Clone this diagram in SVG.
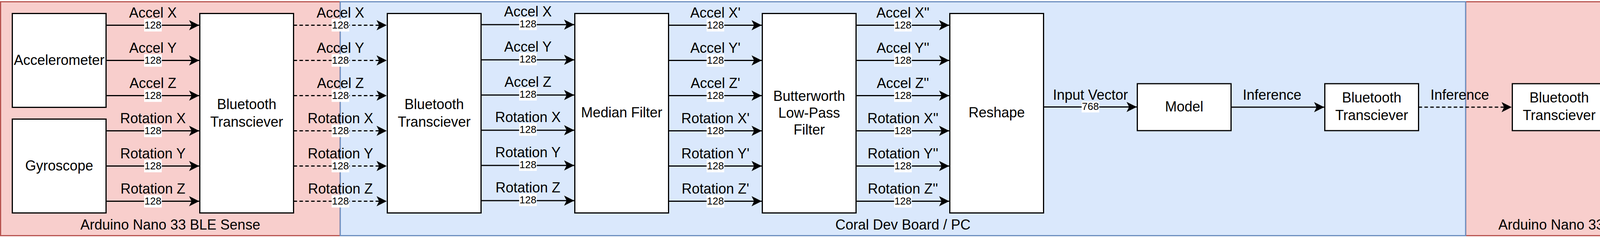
<svg xmlns="http://www.w3.org/2000/svg" width="4383" height="606" viewBox="0 0 4383 606">
<style>
text{font-family:"Liberation Sans",Arial,Helvetica,sans-serif;fill:#000}
.t{font-size:36px;text-anchor:middle}
.n{font-size:26px;text-anchor:middle}
.node{fill:#fff;stroke:#000;stroke-width:3}
.e{stroke:#000;stroke-width:3;fill:none;marker-end:url(#arr)}
.d{stroke-dasharray:9 6}
.lb{fill:#fff}
.red{fill:#f8cecc;stroke:#b85450;stroke-width:3}
.blue{fill:#dae8fc;stroke:#6c8ebf;stroke-width:3}
</style>
<defs>
<marker id="arr" markerUnits="userSpaceOnUse" viewBox="-27 -14 28 28" markerWidth="28" markerHeight="28" refX="0" refY="0" orient="auto"><path d="M0,0 L-26,-13 L-19.5,0 L-26,13 Z" fill="#000"/></marker>
</defs>

<g id="containers">
<g id="arduino-left"><rect class="red" x="1.5" y="4.5" width="869.5" height="598"/><text class="t" x="436" y="587">Arduino Nano 33 BLE Sense</text></g>
<g id="arduino-right"><rect class="red" x="3752" y="4.5" width="629.5" height="598"/><text class="t" x="4066" y="587">Arduino Nano 33 BLE Sense</text></g>
<g id="coral"><rect class="blue" x="871" y="4.5" width="2881" height="598"/><text class="t" x="2311.5" y="587">Coral Dev Board / PC</text></g>
</g>

<g id="connectors">
<g id="g1">
<line class="e" x1="271.5" y1="64.5" x2="510" y2="64.5"/>
<line class="e" x1="271.5" y1="154.5" x2="510" y2="154.5"/>
<line class="e" x1="271.5" y1="244.5" x2="510" y2="244.5"/>
<line class="e" x1="271.5" y1="334.5" x2="510" y2="334.5"/>
<line class="e" x1="271.5" y1="424.5" x2="510" y2="424.5"/>
<line class="e" x1="271.5" y1="514.5" x2="510" y2="514.5"/>
<text class="t" x="391.5" y="44.5">Accel X</text>
<text class="t" x="391.5" y="134.5">Accel Y</text>
<text class="t" x="391.5" y="224.5">Accel Z</text>
<text class="t" x="391.5" y="314.5">Rotation X</text>
<text class="t" x="391.5" y="404.5">Rotation Y</text>
<text class="t" x="391.5" y="494.5">Rotation Z</text>
<rect class="lb" x="369" y="48.5" width="45" height="32"/><text class="n" x="391.5" y="73">128</text>
<rect class="lb" x="369" y="138.5" width="45" height="32"/><text class="n" x="391.5" y="163">128</text>
<rect class="lb" x="369" y="228.5" width="45" height="32"/><text class="n" x="391.5" y="253">128</text>
<rect class="lb" x="369" y="318.5" width="45" height="32"/><text class="n" x="391.5" y="343">128</text>
<rect class="lb" x="369" y="408.5" width="45" height="32"/><text class="n" x="391.5" y="433">128</text>
<rect class="lb" x="369" y="498.5" width="45" height="32"/><text class="n" x="391.5" y="523">128</text>
</g>
<g id="g2">
<line class="e d" x1="751.5" y1="64.5" x2="990" y2="64.5"/>
<line class="e d" x1="751.5" y1="154.5" x2="990" y2="154.5"/>
<line class="e d" x1="751.5" y1="244.5" x2="990" y2="244.5"/>
<line class="e d" x1="751.5" y1="334.5" x2="990" y2="334.5"/>
<line class="e d" x1="751.5" y1="424.5" x2="990" y2="424.5"/>
<line class="e d" x1="751.5" y1="514.5" x2="990" y2="514.5"/>
<text class="t" x="871.5" y="44.5">Accel X</text>
<text class="t" x="871.5" y="134.5">Accel Y</text>
<text class="t" x="871.5" y="224.5">Accel Z</text>
<text class="t" x="871.5" y="314.5">Rotation X</text>
<text class="t" x="871.5" y="404.5">Rotation Y</text>
<text class="t" x="871.5" y="494.5">Rotation Z</text>
<rect class="lb" x="849" y="48.5" width="45" height="32"/><text class="n" x="871.5" y="73">128</text>
<rect class="lb" x="849" y="138.5" width="45" height="32"/><text class="n" x="871.5" y="163">128</text>
<rect class="lb" x="849" y="228.5" width="45" height="32"/><text class="n" x="871.5" y="253">128</text>
<rect class="lb" x="849" y="318.5" width="45" height="32"/><text class="n" x="871.5" y="343">128</text>
<rect class="lb" x="849" y="408.5" width="45" height="32"/><text class="n" x="871.5" y="433">128</text>
<rect class="lb" x="849" y="498.5" width="45" height="32"/><text class="n" x="871.5" y="523">128</text>
</g>
<g id="g3">
<line class="e" x1="1231.5" y1="63" x2="1470" y2="63"/>
<line class="e" x1="1231.5" y1="153" x2="1470" y2="153"/>
<line class="e" x1="1231.5" y1="243" x2="1470" y2="243"/>
<line class="e" x1="1231.5" y1="333" x2="1470" y2="333"/>
<line class="e" x1="1231.5" y1="423" x2="1470" y2="423"/>
<line class="e" x1="1231.5" y1="513" x2="1470" y2="513"/>
<text class="t" x="1351.5" y="41.5">Accel X</text>
<text class="t" x="1351.5" y="131.5">Accel Y</text>
<text class="t" x="1351.5" y="221.5">Accel Z</text>
<text class="t" x="1351.5" y="311.5">Rotation X</text>
<text class="t" x="1351.5" y="401.5">Rotation Y</text>
<text class="t" x="1351.5" y="491.5">Rotation Z</text>
<rect class="lb" x="1329" y="45" width="45" height="32"/><text class="n" x="1351.5" y="70">128</text>
<rect class="lb" x="1329" y="135" width="45" height="32"/><text class="n" x="1351.5" y="160">128</text>
<rect class="lb" x="1329" y="225" width="45" height="32"/><text class="n" x="1351.5" y="250">128</text>
<rect class="lb" x="1329" y="315" width="45" height="32"/><text class="n" x="1351.5" y="340">128</text>
<rect class="lb" x="1329" y="405" width="45" height="32"/><text class="n" x="1351.5" y="430">128</text>
<rect class="lb" x="1329" y="495" width="45" height="32"/><text class="n" x="1351.5" y="520">128</text>
</g>
<g id="g4">
<line class="e" x1="1711.5" y1="64.5" x2="1950" y2="64.5"/>
<line class="e" x1="1711.5" y1="154.5" x2="1950" y2="154.5"/>
<line class="e" x1="1711.5" y1="244.5" x2="1950" y2="244.5"/>
<line class="e" x1="1711.5" y1="334.5" x2="1950" y2="334.5"/>
<line class="e" x1="1711.5" y1="424.5" x2="1950" y2="424.5"/>
<line class="e" x1="1711.5" y1="514.5" x2="1950" y2="514.5"/>
<text class="t" x="1831.5" y="44.5">Accel X'</text>
<text class="t" x="1831.5" y="134.5">Accel Y'</text>
<text class="t" x="1831.5" y="224.5">Accel Z'</text>
<text class="t" x="1831.5" y="314.5">Rotation X'</text>
<text class="t" x="1831.5" y="404.5">Rotation Y'</text>
<text class="t" x="1831.5" y="494.5">Rotation Z'</text>
<rect class="lb" x="1809" y="48.5" width="45" height="32"/><text class="n" x="1831.5" y="73">128</text>
<rect class="lb" x="1809" y="138.5" width="45" height="32"/><text class="n" x="1831.5" y="163">128</text>
<rect class="lb" x="1809" y="228.5" width="45" height="32"/><text class="n" x="1831.5" y="253">128</text>
<rect class="lb" x="1809" y="318.5" width="45" height="32"/><text class="n" x="1831.5" y="343">128</text>
<rect class="lb" x="1809" y="408.5" width="45" height="32"/><text class="n" x="1831.5" y="433">128</text>
<rect class="lb" x="1809" y="498.5" width="45" height="32"/><text class="n" x="1831.5" y="523">128</text>
</g>
<g id="g5">
<line class="e" x1="2191.5" y1="64.5" x2="2430" y2="64.5"/>
<line class="e" x1="2191.5" y1="154.5" x2="2430" y2="154.5"/>
<line class="e" x1="2191.5" y1="244.5" x2="2430" y2="244.5"/>
<line class="e" x1="2191.5" y1="334.5" x2="2430" y2="334.5"/>
<line class="e" x1="2191.5" y1="424.5" x2="2430" y2="424.5"/>
<line class="e" x1="2191.5" y1="514.5" x2="2430" y2="514.5"/>
<text class="t" x="2311.5" y="44.5">Accel X''</text>
<text class="t" x="2311.5" y="134.5">Accel Y''</text>
<text class="t" x="2311.5" y="224.5">Accel Z''</text>
<text class="t" x="2311.5" y="314.5">Rotation X''</text>
<text class="t" x="2311.5" y="404.5">Rotation Y''</text>
<text class="t" x="2311.5" y="494.5">Rotation Z''</text>
<rect class="lb" x="2289" y="48.5" width="45" height="32"/><text class="n" x="2311.5" y="73">128</text>
<rect class="lb" x="2289" y="138.5" width="45" height="32"/><text class="n" x="2311.5" y="163">128</text>
<rect class="lb" x="2289" y="228.5" width="45" height="32"/><text class="n" x="2311.5" y="253">128</text>
<rect class="lb" x="2289" y="318.5" width="45" height="32"/><text class="n" x="2311.5" y="343">128</text>
<rect class="lb" x="2289" y="408.5" width="45" height="32"/><text class="n" x="2311.5" y="433">128</text>
<rect class="lb" x="2289" y="498.5" width="45" height="32"/><text class="n" x="2311.5" y="523">128</text>
</g>
<g id="tail">
<line class="e" x1="2671.5" y1="273.5" x2="2910" y2="273.5"/>
<text class="t" x="2791.5" y="255">Input Vector</text>
<rect class="lb" x="2769" y="259.5" width="45" height="28"/><text class="n" x="2791.5" y="281">768</text>
<line class="e" x1="3151.5" y1="274" x2="3390" y2="274"/>
<text class="t" x="3256.5" y="255">Inference</text>
<line class="e d" x1="3631.5" y1="274" x2="3870" y2="274"/>
<text class="t" x="3737" y="255">Inference</text>
<line class="e" x1="4111.5" y1="269.5" x2="4351.5" y2="269.5"/>
<text class="t" x="4215" y="247.5">Inference</text>
</g>
</g>

<g id="accelerometer"><rect class="node" x="31.5" y="34.5" width="240" height="240"/><text class="t" x="151.5" y="165.5">Accelerometer</text></g>
<g id="gyroscope"><rect class="node" x="31.5" y="304.5" width="240" height="240"/><text class="t" x="151.5" y="435.5">Gyroscope</text></g>
<g id="bt1"><rect class="node" x="511.5" y="34.5" width="240" height="510"/><text class="t" x="631.5" y="279">Bluetooth</text><text class="t" x="631.5" y="324">Transciever</text></g>
<g id="bt2"><rect class="node" x="991.5" y="34.5" width="240" height="510"/><text class="t" x="1111.5" y="279">Bluetooth</text><text class="t" x="1111.5" y="324">Transciever</text></g>
<g id="median"><rect class="node" x="1471.5" y="34.5" width="240" height="510"/><text class="t" x="1591.5" y="300">Median Filter</text></g>
<g id="butterworth"><rect class="node" x="1951.5" y="34.5" width="240" height="510"/><text class="t" x="2071.5" y="258">Butterworth</text><text class="t" x="2071.5" y="301">Low-Pass</text><text class="t" x="2071.5" y="344">Filter</text></g>
<g id="reshape"><rect class="node" x="2431.5" y="34.5" width="240" height="510"/><text class="t" x="2551.5" y="300">Reshape</text></g>
<g id="model"><rect class="node" x="2911.5" y="214" width="240" height="120"/><text class="t" x="3031.5" y="285">Model</text></g>
<g id="bt3"><rect class="node" x="3391.5" y="214" width="240" height="120"/><text class="t" x="3511.5" y="262">Bluetooth</text><text class="t" x="3511.5" y="307">Transciever</text></g>
<g id="bt4"><rect class="node" x="3871.5" y="214" width="240" height="120"/><text class="t" x="3991.5" y="262">Bluetooth</text><text class="t" x="3991.5" y="307">Transciever</text></g>
</svg>
